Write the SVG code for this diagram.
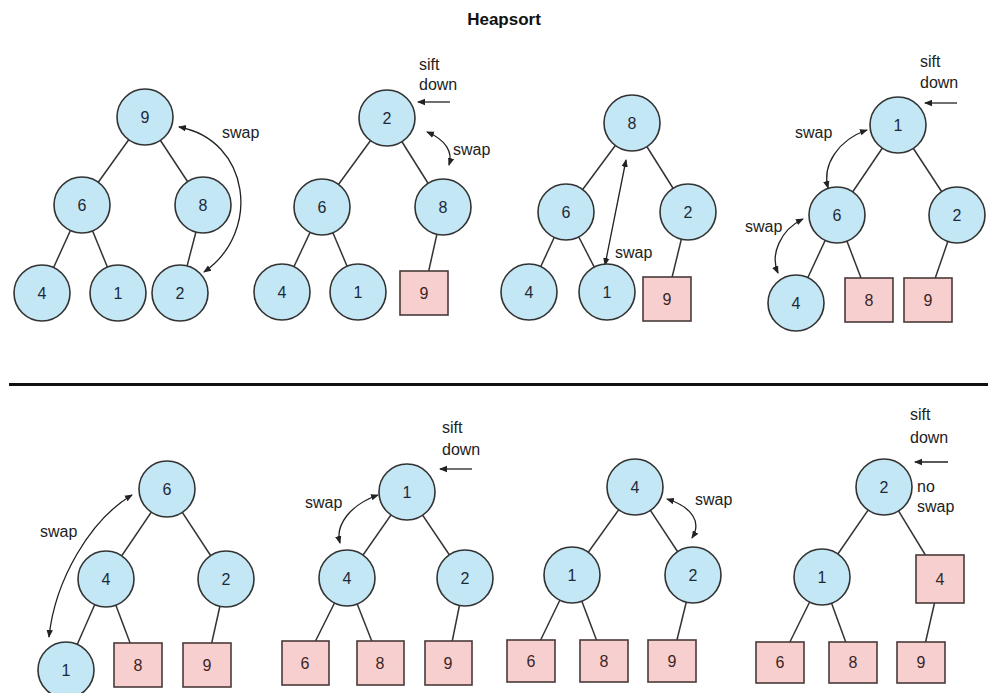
<svg xmlns="http://www.w3.org/2000/svg" width="988" height="693" viewBox="0 0 988 693">
<style>
  .c{fill:#c4e7f5;stroke:#333;stroke-width:1.6}
  .s{fill:#f8cfcf;stroke:#4a3a3a;stroke-width:1.6}
  .t{font-family:"Liberation Sans",Arial,sans-serif;font-size:16px;fill:#1d2a3a;text-anchor:middle;dominant-baseline:central}
  .ts{fill:#3a2626}
  .e{stroke:#333;stroke-width:1.5;fill:none}
  .a{stroke:#222;stroke-width:1.3;fill:none;marker-end:url(#ah);marker-start:url(#ah)}
  .a1{stroke:#222;stroke-width:1.3;fill:none;marker-end:url(#ah)}
  .l{font-family:"Liberation Sans",Arial,sans-serif;font-size:16px;fill:#222}
</style>
<defs>
  <marker id="ah" markerWidth="8" markerHeight="8" refX="7" refY="4" orient="auto-start-reverse" markerUnits="userSpaceOnUse">
    <path d="M0,0.8 L8,4 L0,7.2 Z" fill="#222"/>
  </marker>
</defs>
<rect width="988" height="693" fill="#fff"/>
<text x="504" y="25" font-family="'Liberation Sans',Arial,sans-serif" font-size="17" font-weight="bold" text-anchor="middle" fill="#111">Heapsort</text>
<line x1="9" y1="384.5" x2="988" y2="384.5" stroke="#111" stroke-width="3"/>

<g id="connectors">
  <!-- panel 1 -->
  <line class="e" x1="145" y1="117" x2="82" y2="205"/>
  <line class="e" x1="145" y1="117" x2="203" y2="205"/>
  <line class="e" x1="82" y1="205" x2="42" y2="293"/>
  <line class="e" x1="82" y1="205" x2="118" y2="293"/>
  <line class="e" x1="203" y1="205" x2="180" y2="293"/>
  <path class="a" d="M179,127 C250,140 262,232 204,272"/>
  <!-- panel 2 -->
  <line class="e" x1="387" y1="118" x2="322" y2="207"/>
  <line class="e" x1="387" y1="118" x2="443" y2="207"/>
  <line class="e" x1="322" y1="207" x2="282" y2="292"/>
  <line class="e" x1="322" y1="207" x2="358" y2="292"/>
  <line class="e" x1="443" y1="207" x2="424" y2="292"/>
  <path class="a1" d="M450,102 L418,102"/>
  <path class="a" d="M427,132 C446,140 453,152 449,165"/>
  <!-- panel 3 -->
  <line class="e" x1="632" y1="123" x2="566" y2="212"/>
  <line class="e" x1="632" y1="123" x2="688" y2="212"/>
  <line class="e" x1="566" y1="212" x2="529" y2="292"/>
  <line class="e" x1="566" y1="212" x2="607" y2="292"/>
  <line class="e" x1="688" y1="212" x2="667" y2="298"/>
  <path class="a" d="M626,160 L605,265"/>
  <!-- panel 4 -->
  <line class="e" x1="898" y1="125" x2="837" y2="215"/>
  <line class="e" x1="898" y1="125" x2="957" y2="215"/>
  <line class="e" x1="837" y1="215" x2="796" y2="303"/>
  <line class="e" x1="837" y1="215" x2="869" y2="299"/>
  <line class="e" x1="957" y1="215" x2="928" y2="299"/>
  <path class="a1" d="M957,103 L925,103"/>
  <path class="a" d="M867,130 C838,140 822,165 828,188"/>
  <path class="a" d="M803,219 C780,230 770,255 778,273"/>
  <!-- panel 5 -->
  <line class="e" x1="167" y1="489" x2="106" y2="579"/>
  <line class="e" x1="167" y1="489" x2="226" y2="579"/>
  <line class="e" x1="106" y1="579" x2="66" y2="670"/>
  <line class="e" x1="106" y1="579" x2="138" y2="664"/>
  <line class="e" x1="226" y1="579" x2="207" y2="664"/>
  <path class="a" d="M132,495 C90,520 55,580 49,637"/>
  <!-- panel 6 -->
  <line class="e" x1="407" y1="492" x2="347" y2="578"/>
  <line class="e" x1="407" y1="492" x2="465" y2="578"/>
  <line class="e" x1="347" y1="578" x2="305" y2="662"/>
  <line class="e" x1="347" y1="578" x2="380" y2="662"/>
  <line class="e" x1="465" y1="578" x2="448" y2="662"/>
  <path class="a1" d="M472,469 L440,469"/>
  <path class="a" d="M378,495 C350,505 335,525 340,543"/>
  <!-- panel 7 -->
  <line class="e" x1="635" y1="487" x2="572" y2="575"/>
  <line class="e" x1="635" y1="487" x2="693" y2="575"/>
  <line class="e" x1="572" y1="575" x2="531" y2="660"/>
  <line class="e" x1="572" y1="575" x2="604" y2="660"/>
  <line class="e" x1="693" y1="575" x2="672" y2="660"/>
  <path class="a" d="M667,499 C692,507 702,522 692,538"/>
  <!-- panel 8 -->
  <line class="e" x1="884" y1="487" x2="822" y2="577"/>
  <line class="e" x1="884" y1="487" x2="940" y2="579"/>
  <line class="e" x1="822" y1="577" x2="780" y2="662"/>
  <line class="e" x1="822" y1="577" x2="853" y2="662"/>
  <line class="e" x1="940" y1="579" x2="921" y2="662"/>
  <path class="a1" d="M948,462 L915,462"/>
</g>

<g id="labels">
  <text class="l" x="222" y="138">swap</text>
  <text class="l" x="419" y="70">sift</text>
  <text class="l" x="419" y="90">down</text>
  <text class="l" x="453" y="155">swap</text>
  <text class="l" x="615" y="258">swap</text>
  <text class="l" x="920" y="67">sift</text>
  <text class="l" x="920" y="88">down</text>
  <text class="l" x="795" y="138">swap</text>
  <text class="l" x="745" y="232">swap</text>
  <text class="l" x="40" y="537">swap</text>
  <text class="l" x="442" y="433">sift</text>
  <text class="l" x="442" y="455">down</text>
  <text class="l" x="305" y="508">swap</text>
  <text class="l" x="695" y="505">swap</text>
  <text class="l" x="910" y="420">sift</text>
  <text class="l" x="910" y="443">down</text>
  <text class="l" x="917" y="492">no</text>
  <text class="l" x="917" y="512">swap</text>
</g>

<!-- panel 1 -->
<g id="p1n9"><circle class="c" cx="145" cy="117" r="28"/><text class="t" x="145" y="117">9</text></g>
<g id="p1n6"><circle class="c" cx="82" cy="205" r="28"/><text class="t" x="82" y="205">6</text></g>
<g id="p1n8"><circle class="c" cx="203" cy="205" r="28"/><text class="t" x="203" y="205">8</text></g>
<g id="p1n4"><circle class="c" cx="42" cy="293" r="28"/><text class="t" x="42" y="293">4</text></g>
<g id="p1n1"><circle class="c" cx="118" cy="293" r="28"/><text class="t" x="118" y="293">1</text></g>
<g id="p1n2"><circle class="c" cx="180" cy="293" r="28"/><text class="t" x="180" y="293">2</text></g>
<!-- panel 2 -->
<g id="p2n2"><circle class="c" cx="387" cy="118" r="28"/><text class="t" x="387" y="118">2</text></g>
<g id="p2n6"><circle class="c" cx="322" cy="207" r="28"/><text class="t" x="322" y="207">6</text></g>
<g id="p2n8"><circle class="c" cx="443" cy="207" r="28"/><text class="t" x="443" y="207">8</text></g>
<g id="p2n4"><circle class="c" cx="282" cy="292" r="28"/><text class="t" x="282" y="292">4</text></g>
<g id="p2n1"><circle class="c" cx="358" cy="292" r="28"/><text class="t" x="358" y="292">1</text></g>
<g id="p2s9"><rect class="s" x="400" y="271" width="48" height="44"/><text class="t ts" x="424" y="293">9</text></g>
<!-- panel 3 -->
<g id="p3n8"><circle class="c" cx="632" cy="123" r="28"/><text class="t" x="632" y="123">8</text></g>
<g id="p3n6"><circle class="c" cx="566" cy="212" r="28"/><text class="t" x="566" y="212">6</text></g>
<g id="p3n2"><circle class="c" cx="688" cy="212" r="28"/><text class="t" x="688" y="212">2</text></g>
<g id="p3n4"><circle class="c" cx="529" cy="292" r="28"/><text class="t" x="529" y="292">4</text></g>
<g id="p3n1"><circle class="c" cx="607" cy="292" r="28"/><text class="t" x="607" y="292">1</text></g>
<g id="p3s9"><rect class="s" x="643" y="277" width="48" height="44"/><text class="t ts" x="667" y="299">9</text></g>
<!-- panel 4 -->
<g id="p4n1"><circle class="c" cx="898" cy="125" r="28"/><text class="t" x="898" y="125">1</text></g>
<g id="p4n6"><circle class="c" cx="837" cy="215" r="28"/><text class="t" x="837" y="215">6</text></g>
<g id="p4n2"><circle class="c" cx="957" cy="215" r="28"/><text class="t" x="957" y="215">2</text></g>
<g id="p4n4"><circle class="c" cx="796" cy="303" r="28"/><text class="t" x="796" y="303">4</text></g>
<g id="p4s8"><rect class="s" x="845" y="278" width="48" height="44"/><text class="t ts" x="869" y="300">8</text></g>
<g id="p4s9"><rect class="s" x="904" y="278" width="48" height="44"/><text class="t ts" x="928" y="300">9</text></g>
<!-- panel 5 -->
<g id="p5n6"><circle class="c" cx="167" cy="489" r="28"/><text class="t" x="167" y="489">6</text></g>
<g id="p5n4"><circle class="c" cx="106" cy="579" r="28"/><text class="t" x="106" y="579">4</text></g>
<g id="p5n2"><circle class="c" cx="226" cy="579" r="28"/><text class="t" x="226" y="579">2</text></g>
<g id="p5n1"><circle class="c" cx="66" cy="670" r="28"/><text class="t" x="66" y="670">1</text></g>
<g id="p5s8"><rect class="s" x="114" y="643" width="48" height="44"/><text class="t ts" x="138" y="665">8</text></g>
<g id="p5s9"><rect class="s" x="183" y="643" width="48" height="44"/><text class="t ts" x="207" y="665">9</text></g>
<!-- panel 6 -->
<g id="p6n1"><circle class="c" cx="407" cy="492" r="28"/><text class="t" x="407" y="492">1</text></g>
<g id="p6n4"><circle class="c" cx="347" cy="578" r="28"/><text class="t" x="347" y="578">4</text></g>
<g id="p6n2"><circle class="c" cx="465" cy="578" r="28"/><text class="t" x="465" y="578">2</text></g>
<g id="p6s6"><rect class="s" x="282" y="641" width="47" height="44"/><text class="t ts" x="305" y="663">6</text></g>
<g id="p6s8"><rect class="s" x="357" y="641" width="47" height="44"/><text class="t ts" x="380" y="663">8</text></g>
<g id="p6s9"><rect class="s" x="425" y="641" width="47" height="44"/><text class="t ts" x="448" y="663">9</text></g>
<!-- panel 7 -->
<g id="p7n4"><circle class="c" cx="635" cy="487" r="28"/><text class="t" x="635" y="487">4</text></g>
<g id="p7n1"><circle class="c" cx="572" cy="575" r="28"/><text class="t" x="572" y="575">1</text></g>
<g id="p7n2"><circle class="c" cx="693" cy="575" r="28"/><text class="t" x="693" y="575">2</text></g>
<g id="p7s6"><rect class="s" x="507" y="640" width="48" height="42"/><text class="t ts" x="531" y="661">6</text></g>
<g id="p7s8"><rect class="s" x="580" y="640" width="48" height="42"/><text class="t ts" x="604" y="661">8</text></g>
<g id="p7s9"><rect class="s" x="648" y="640" width="48" height="42"/><text class="t ts" x="672" y="661">9</text></g>
<!-- panel 8 -->
<g id="p8n2"><circle class="c" cx="884" cy="487" r="28"/><text class="t" x="884" y="487">2</text></g>
<g id="p8n1"><circle class="c" cx="822" cy="577" r="28"/><text class="t" x="822" y="577">1</text></g>
<g id="p8s4"><rect class="s" x="916" y="555" width="48" height="48"/><text class="t ts" x="940" y="579">4</text></g>
<g id="p8s6"><rect class="s" x="756" y="642" width="48" height="41"/><text class="t ts" x="780" y="662">6</text></g>
<g id="p8s8"><rect class="s" x="829" y="642" width="48" height="41"/><text class="t ts" x="853" y="662">8</text></g>
<g id="p8s9"><rect class="s" x="897" y="642" width="48" height="41"/><text class="t ts" x="921" y="662">9</text></g>
</svg>
